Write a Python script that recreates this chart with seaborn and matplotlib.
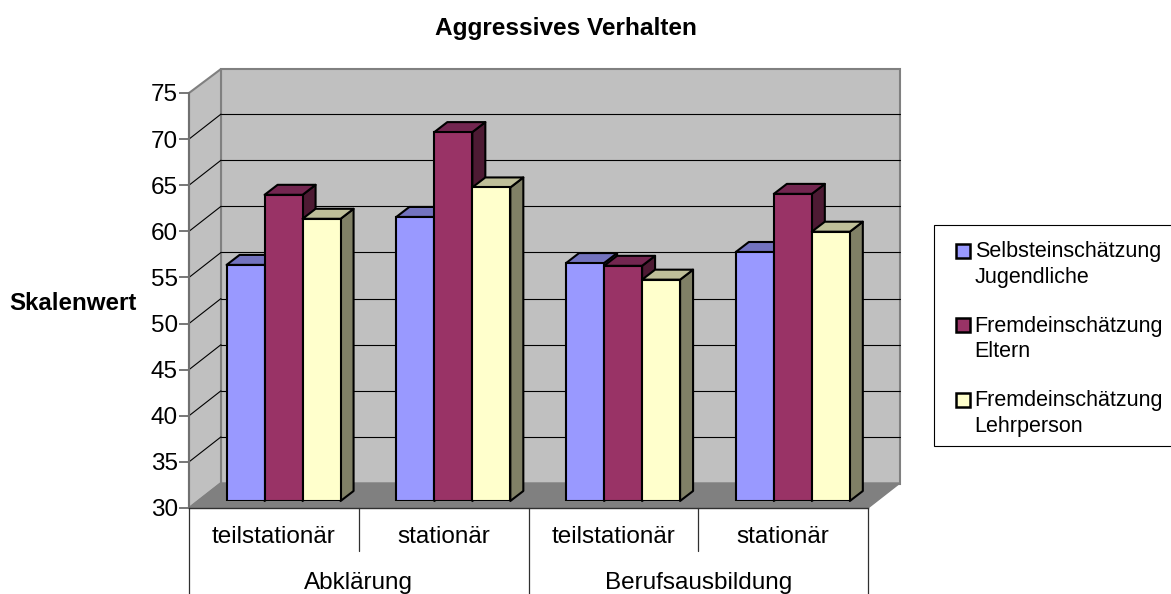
import matplotlib
matplotlib.use("Agg")
import matplotlib.pyplot as plt
import numpy as np
import pandas as pd
import seaborn as sns
from matplotlib.legend_handler import HandlerPatch
from matplotlib.patches import Patch, Polygon, Rectangle
from matplotlib.transforms import IdentityTransform

title = "Aggressives Verhalten"
ylabel = "Skalenwert"
groups = ["Abklärung", "Berufsausbildung"]
cat_labels = ["teilstationär", "stationär", "teilstationär", "stationär"]
cat_keys = ["A teil", "A stat", "B teil", "B stat"]
series = ["Selbsteinschätzung\nJugendliche", "Fremdeinschätzung\nEltern", "Fremdeinschätzung\nLehrperson"]
selbst = [55.6, 60.8, 55.8, 57.0]
eltern = [63.2, 70.0, 55.5, 63.3]
lehr = [60.6, 64.0, 54.0, 59.2]
yticks = list(range(30, 80, 5))

front = ["#9999FF", "#993366", "#FFFFCC"]
topc = ["#7373BF", "#732650", "#BFBF99"]
sidec = ["#4D4D80", "#4D1A33", "#808066"]

W, H = 1171, 594
sns.set_style("white")
plt.rcParams["font.family"] = ["Liberation Sans", "DejaVu Sans"]
plt.rcParams["text.color"] = "black"
plt.rcParams["xtick.color"] = "black"
plt.rcParams["ytick.color"] = "black"
plt.rcParams["axes.labelcolor"] = "black"
fig = plt.figure(figsize=(W / 100, H / 100), dpi=100, facecolor="white")


def rect(x0, ytop, x1, ybot):
    return [x0 / W, 1 - ybot / H, (x1 - x0) / W, (ybot - ytop) / H]


# plot frame in pixels
L, R, T, B = 189, 868, 93, 508
DX, DY = 32, 25
ypx = lambda v: B - (v - 30) * (B - T) / 45

# decoration layer: walls, floor and legend frame
bg = fig.add_axes([0, 0, 1, 1], zorder=0)
bg.set_xlim(0, W)
bg.set_ylim(H, 0)
bg.axis("off")
wall, floor, edge = "#C0C0C0", "#808080", "#808080"
bg.add_patch(Rectangle((L + DX, T - DY + 1), R - L, B - T + 0, fc=wall, ec=edge, lw=1.5))
bg.add_patch(Polygon([(L, T), (L + DX, T - DY + 1), (L + DX, B - DY), (L, B)], fc=wall, ec=edge, lw=1.5))
bg.add_patch(Polygon([(L, B), (R, B), (R + DX, B - DY), (L + DX, B - DY)], fc=floor, ec=floor, lw=1))
for v in yticks[1:-1]:
    y = ypx(v)
    bg.plot([L, L + DX], [y, y - DY], color="black", lw=0.8)
    bg.plot([L + DX, R + DX], [y - DY, y - DY], color="black", lw=0.8)
bg.add_patch(Rectangle((934, 225), 245, 221, fc="white", ec="black", lw=0.8))

# axis layer
ax = fig.add_axes(rect(L, T, R, B), zorder=1)
ax.patch.set_alpha(0)
ax.set_xlim(-0.5, 3.5)
ax.set_ylim(30, 75)
ax.set_yticks(yticks)
ax.set_xticks(range(4))
ax.set_xticklabels(cat_labels)
ax.tick_params(axis="y", length=7, width=1.2, color="#606060", labelsize=17.5, pad=1, left=True)
ax.tick_params(axis="x", length=0, labelsize=17.5, pad=13)
for s in ["top", "right"]:
    ax.spines[s].set_visible(False)
ax.spines["left"].set_color("#707070")
ax.spines["left"].set_linewidth(1.5)
ax.spines["bottom"].set_color("#303030")
ax.spines["bottom"].set_linewidth(1)
xform = ax.get_xaxis_transform()
for x, ymin in [(-0.5, -0.21), (0.5, -0.104), (1.5, -0.21), (2.5, -0.104), (3.5, -0.21)]:
    ax.plot([x, x], [0, ymin], transform=xform, color="#303030", lw=0.9, clip_on=False)
for gx, name in zip([0.5, 2.5], groups):
    ax.text(gx, -(589 - B) / (B - T), name, transform=xform, ha="center", va="baseline",
            fontsize=17.5, clip_on=False)

# bar layer, shifted inward by half the depth
ax_bars = fig.add_axes(rect(L + 9.7, T - 7, R + 9.7, B - 7), zorder=2)
ax_bars.patch.set_alpha(0)
df = pd.DataFrame({
    "Kategorie": cat_keys * 3,
    "Reihe": [series[0]] * 4 + [series[1]] * 4 + [series[2]] * 4,
    "Wert": selbst + eltern + lehr,
})
sns.barplot(data=df, x="Kategorie", y="Wert", hue="Reihe", hue_order=series, order=cat_keys,
            palette=front, width=114 / 169.75, gap=0, edgecolor="black", linewidth=1.5,
            saturation=1, legend=False, ax=ax_bars)
ax_bars.set_xlim(-0.5, 3.5)
ax_bars.set_ylim(30, 75)
ax_bars.axis("off")
fig.canvas.draw()

bars = [p for p in ax_bars.patches if p.get_width() > 0]
n_cat = len(cat_keys)
info = []
for i, p in enumerate(bars):
    top = p.get_y() + p.get_height()
    p.set_y(30)
    p.set_height(top - 30)
    info.append((p.get_x(), i // n_cat, p))
info.sort(key=lambda t: t[0])
dx, dy = 13, 10
for k, (_, s_idx, p) in enumerate(info):
    (x0, y0) = ax_bars.transData.transform((p.get_x(), p.get_y()))
    (x1, y1) = ax_bars.transData.transform((p.get_x() + p.get_width(), p.get_y() + p.get_height()))
    z = 3 + k
    p.set_zorder(z + 0.5)
    for pts, col in [([(x1, y0), (x1 + dx, y0 + dy), (x1 + dx, y1 + dy), (x1, y1)], sidec[s_idx]),
                     ([(x0, y1), (x1, y1), (x1 + dx, y1 + dy), (x0 + dx, y1 + dy)], topc[s_idx])]:
        ax_bars.add_patch(Polygon(pts, closed=True, fc=col, ec="black", lw=1.5, joinstyle="round",
                                  transform=IdentityTransform(), clip_on=False, zorder=z))

# texts
fig.text(566 / W, 1 - 28 / H, title, ha="center", va="center", fontsize=17.6, fontweight="bold")
fig.text(72.5 / W, 1 - 303 / H, ylabel, ha="center", va="center", fontsize=17.4, fontweight="bold")


def square(legend, orig_handle, xdescent, ydescent, width, height, fontsize):
    return Rectangle((-xdescent + 7.3, -ydescent + 12.2), 10, 10)


handles = [Patch(facecolor=c, edgecolor="black", linewidth=1.8, label=s) for c, s in zip(front, series)]
leg = fig.legend(handles=handles, labels=series, loc="upper left", bbox_to_anchor=(934 / W, 1 - 229 / H),
                 borderaxespad=0, fontsize=15.5, frameon=False,
                 handlelength=1, handleheight=1, handletextpad=0.34, labelspacing=1.30,
                 borderpad=0.55, labelcolor="black",
                 handler_map={Patch: HandlerPatch(patch_func=square)})
for t in leg.get_texts():
    t.set_linespacing(1.30)
leg.set_zorder(5)

fig.savefig("out.png", dpi=100, facecolor="white")
